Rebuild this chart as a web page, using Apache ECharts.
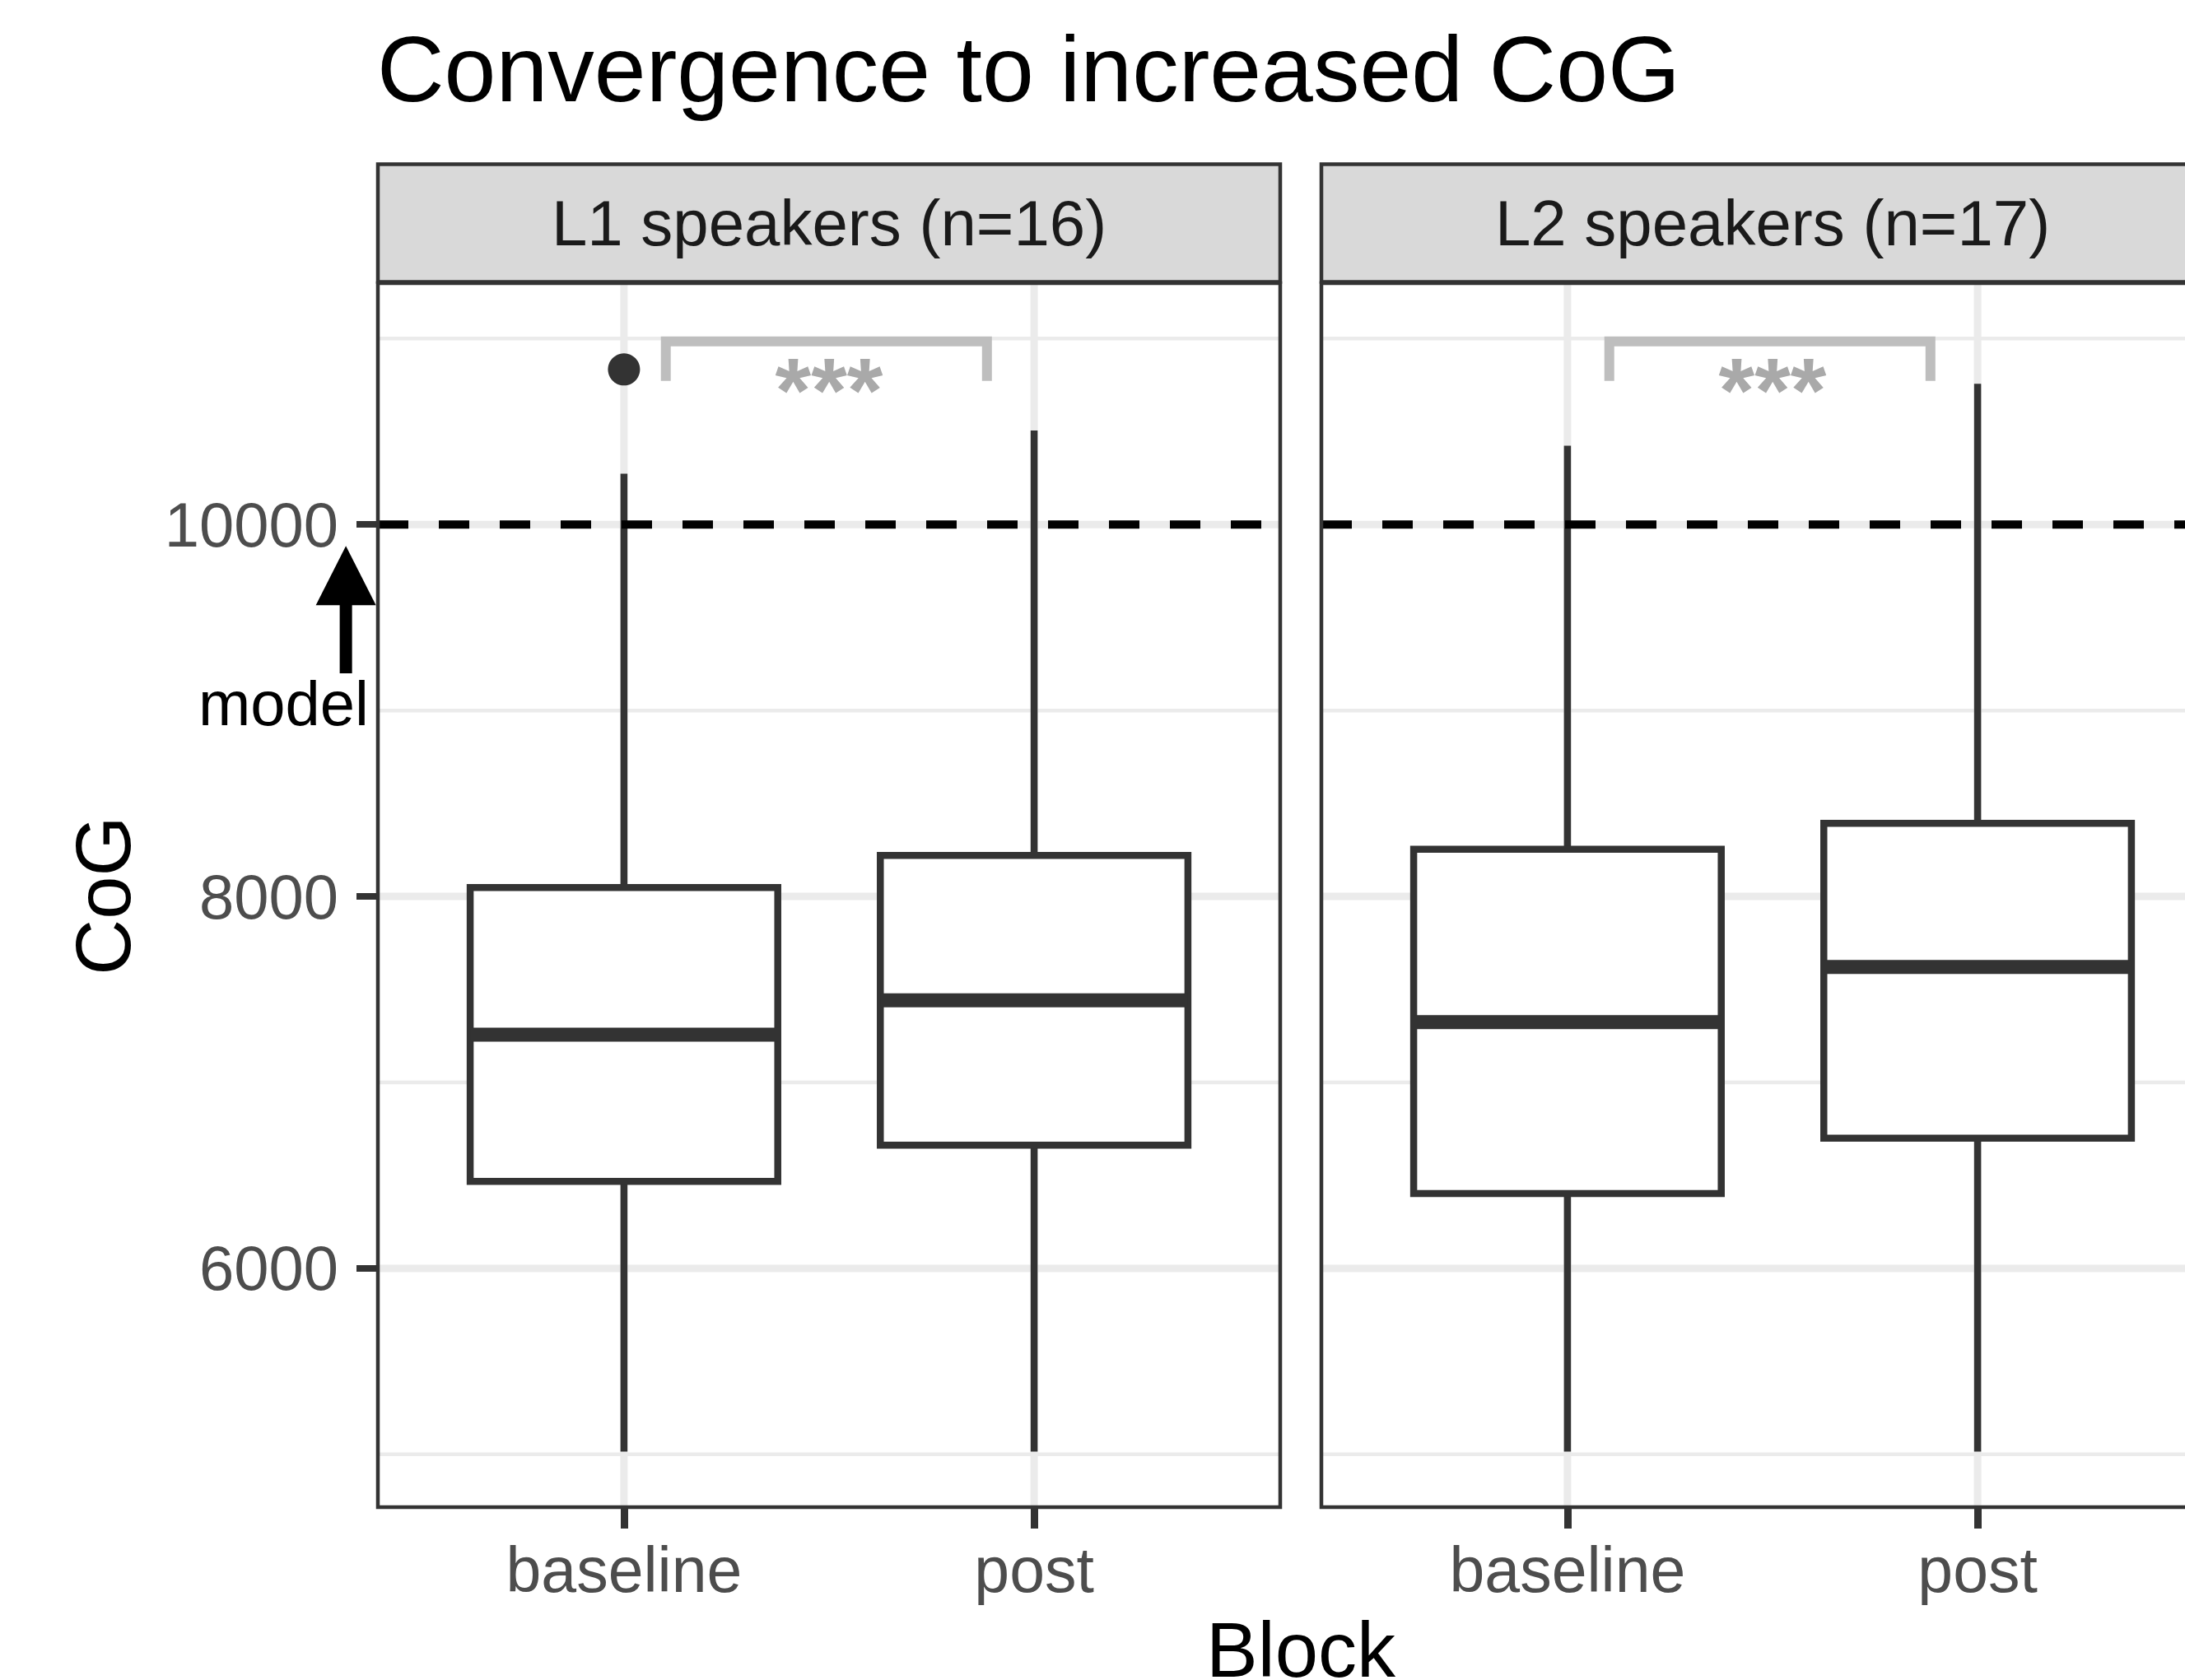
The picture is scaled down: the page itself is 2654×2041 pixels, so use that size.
<!DOCTYPE html>
<html>
<head>
<meta charset="utf-8">
<script src="https://cdn.jsdelivr.net/npm/echarts@6/dist/echarts.min.js"></script>
<style>
html,body{margin:0;padding:0;background:#ffffff;}
#c{width:2654px;height:2041px;}
</style>
</head>
<body>
<div id="c"></div>
<script>
// ---------------- data ----------------
const chartTitle = 'Convergence to increased CoG';
const panels = ['L1 speakers (n=16)', 'L2 speakers (n=17)'];
const blocks = ['baseline', 'post'];
const xTitle = 'Block';
const yTitle = 'CoG';
const yTicks = [6000, 8000, 10000];
const yMinorGrid = [5000, 7000, 9000, 11000];
const yRange = [4716, 11298];
const xRange = [0.4, 2.6];
const modelValue = 10000;
// per block: [lower whisker, Q1, median, Q3, upper whisker]
const l1Boxes = [[5015, 6468, 7257, 8048, 10273], [5015, 6662, 7442, 8221, 10506]];
const l2Boxes = [[5015, 6402, 7324, 8254, 10424], [5015, 6700, 7621, 8393, 10757]];
const l1Outliers = [[1, 10834]];
const l2Outliers = [];
const sigLabel = '***';
const sigBracketX = [1.102, 1.885];
const sigBracketY = [10772, 10985];
const sigLabelY = 10967;
const modelLabel = 'model';
const modelArrowX = 0.322;
const modelArrowY = [9200, 9885];
const modelLabelPos = [0.170, 9040];

// ---------------- chart ----------------
const FONT = '"Liberation Sans", Arial, Helvetica, sans-serif';
const GRIDS = [
  {left: 459, top: 344, width: 1096, height: 1487},
  {left: 1605, top: 344, width: 1096, height: 1487}
];
const boxData = [l1Boxes, l2Boxes];
const outlierData = [l1Outliers, l2Outliers];

const chart = echarts.init(document.getElementById('c'), null, {renderer: 'svg', width: 2654, height: 2041});

function gridLineSeries(gi) {
  const data = [];
  yMinorGrid.forEach(v => data.push([0, v, 0]));
  yTicks.forEach(v => data.push([0, v, 1]));
  blocks.forEach((b, i) => data.push([1, i + 1, 1]));
  return {
    type: 'custom', xAxisIndex: gi, yAxisIndex: gi, z: 1, silent: true, data: data,
    renderItem: function (params, api) {
      const cs = params.coordSys;
      const orient = api.value(0), v = api.value(1), major = api.value(2);
      let shape;
      if (orient === 0) {
        const y = api.coord([xRange[0], v])[1];
        shape = {x1: cs.x, y1: y, x2: cs.x + cs.width, y2: y};
      } else {
        const x = api.coord([v, yRange[0]])[0];
        shape = {x1: x, y1: cs.y, x2: x, y2: cs.y + cs.height};
      }
      return {type: 'line', shape: shape, style: {stroke: '#EBEBEB', lineWidth: major ? 9 : 4.5}};
    }
  };
}

function boxSeries(gi) {
  return {
    type: 'custom', xAxisIndex: gi, yAxisIndex: gi, z: 3, silent: true,
    data: boxData[gi].map((b, i) => [i + 1].concat(b)),
    renderItem: function (params, api) {
      const x = api.value(0);
      const lo = api.coord([x, api.value(1)]);
      const q1 = api.coord([x, api.value(2)]);
      const md = api.coord([x, api.value(3)]);
      const q3 = api.coord([x, api.value(4)]);
      const hi = api.coord([x, api.value(5)]);
      const hw = api.size([0.75, 0])[0] / 2;
      const st = {stroke: '#333333', lineWidth: 8.5};
      return {type: 'group', children: [
        {type: 'line', shape: {x1: hi[0], y1: hi[1], x2: q3[0], y2: q3[1]}, style: st},
        {type: 'line', shape: {x1: q1[0], y1: q1[1], x2: lo[0], y2: lo[1]}, style: st},
        {type: 'rect', shape: {x: md[0] - hw, y: q3[1], width: 2 * hw, height: q1[1] - q3[1]},
          style: {fill: '#FFFFFF', stroke: '#333333', lineWidth: 8.5}},
        {type: 'line', shape: {x1: md[0] - hw, y1: md[1], x2: md[0] + hw, y2: md[1]},
          style: {stroke: '#333333', lineWidth: 17}}
      ]};
    }
  };
}

function modelLineSeries(gi) {
  return {
    type: 'custom', xAxisIndex: gi, yAxisIndex: gi, z: 4, silent: true,
    data: [[xRange[0], modelValue]],
    renderItem: function (params, api) {
      const cs = params.coordSys;
      const y = api.coord([xRange[0], api.value(1)])[1];
      return {type: 'line', shape: {x1: cs.x, y1: y, x2: cs.x + cs.width, y2: y},
        style: {stroke: '#000000', lineWidth: 10, lineDash: [37, 37]}};
    }
  };
}

function sigSeries(gi) {
  return {
    type: 'custom', xAxisIndex: gi, yAxisIndex: gi, z: 5, silent: true,
    data: [[sigBracketX[0], sigBracketX[1], sigBracketY[0], sigBracketY[1], sigLabelY]],
    renderItem: function (params, api) {
      const x1 = api.value(0), x2 = api.value(1);
      const a = api.coord([x1, api.value(2)]);
      const b = api.coord([x1, api.value(3)]);
      const c = api.coord([x2, api.value(3)]);
      const d = api.coord([x2, api.value(2)]);
      const t = api.coord([1.5, api.value(4)]);
      return {type: 'group', children: [
        {type: 'polyline', shape: {points: [a, b, c, d]},
          style: {stroke: '#BEBEBE', lineWidth: 12, lineJoin: 'miter', lineCap: 'butt', fill: null}},
        {type: 'text', style: {text: sigLabel, x: t[0], y: t[1], align: 'center', verticalAlign: 'top',
          fontFamily: FONT, fontSize: 112, fontWeight: 'bold', fill: '#A9A9A9'}}
      ]};
    }
  };
}

function modelAnnotationSeries() {
  return {
    type: 'custom', xAxisIndex: 0, yAxisIndex: 0, z: 6, silent: true, clip: false,
    data: [[modelArrowX, modelArrowY[0], modelArrowY[1], modelLabelPos[0], modelLabelPos[1]]],
    renderItem: function (params, api) {
      const tail = api.coord([api.value(0), api.value(1)]);
      const tip = api.coord([api.value(0), api.value(2)]);
      const lab = api.coord([api.value(3), api.value(4)]);
      const hl = 72, hw = 36.5;
      return {type: 'group', children: [
        {type: 'line', shape: {x1: tail[0], y1: tail[1], x2: tip[0], y2: tip[1] + hl - 2},
          style: {stroke: '#000000', lineWidth: 15}},
        {type: 'polygon', shape: {points: [[tip[0], tip[1]], [tip[0] - hw, tip[1] + hl], [tip[0] + hw, tip[1] + hl]]},
          style: {fill: '#000000'}},
        {type: 'text', style: {text: modelLabel, x: lab[0], y: lab[1], align: 'center', verticalAlign: 'middle',
          fontFamily: FONT, fontSize: 76, fill: '#000000'}}
      ]};
    }
  };
}

const xAxes = GRIDS.map((g, gi) => ({
  type: 'value', gridIndex: gi, min: xRange[0], max: xRange[1],
  axisLine: {show: false},
  splitLine: {show: false},
  axisTick: {show: true, customValues: [1, 2], length: 26, lineStyle: {color: '#333333', width: 9}},
  axisLabel: {show: true, customValues: [1, 2], margin: 37,
    formatter: v => blocks[Math.round(v) - 1],
    fontFamily: FONT, fontSize: 77, color: '#4D4D4D'}
}));

const yAxes = GRIDS.map((g, gi) => ({
  type: 'value', gridIndex: gi, min: yRange[0], max: yRange[1],
  axisLine: {show: false},
  splitLine: {show: false},
  axisTick: {show: gi === 0, customValues: yTicks, length: 26, lineStyle: {color: '#333333', width: 8}},
  axisLabel: {show: gi === 0, customValues: yTicks, margin: 48,
    formatter: v => String(v),
    fontFamily: FONT, fontSize: 76, color: '#4D4D4D'}
}));

const series = [];
GRIDS.forEach((g, gi) => {
  series.push(gridLineSeries(gi));
  series.push(boxSeries(gi));
  series.push({
    type: 'scatter', xAxisIndex: gi, yAxisIndex: gi, z: 3, silent: true,
    data: outlierData[gi], symbol: 'circle', symbolSize: 39,
    itemStyle: {color: '#333333', opacity: 1}
  });
  series.push(modelLineSeries(gi));
  series.push(sigSeries(gi));
});
series.push(modelAnnotationSeries());

const graphics = [];
GRIDS.forEach((g, gi) => {
  graphics.push({type: 'rect', z: 50, silent: true,
    shape: {x: g.left, y: 199.5, width: g.width, height: 143},
    style: {fill: '#D9D9D9', stroke: '#333333', lineWidth: 4.5}});
  graphics.push({type: 'text', z: 51, silent: true, x: g.left + g.width / 2, y: 271,
    style: {text: panels[gi], align: 'center', verticalAlign: 'middle',
      fontFamily: FONT, fontSize: 78, fill: '#1A1A1A'}});
  graphics.push({type: 'rect', z: 100, silent: true,
    shape: {x: g.left, y: g.top, width: g.width, height: g.height},
    style: {fill: 'none', stroke: '#333333', lineWidth: 4.5}});
});
graphics.push({type: 'text', silent: true, x: 458, y: 84,
  style: {text: chartTitle, align: 'left', verticalAlign: 'middle', fontFamily: FONT, fontSize: 113, fill: '#000000'}});
graphics.push({type: 'text', silent: true, x: 1580, y: 2004,
  style: {text: xTitle, align: 'center', verticalAlign: 'middle', fontFamily: FONT, fontSize: 94, fill: '#000000'}});
graphics.push({type: 'text', silent: true, x: 125, y: 1088, rotation: Math.PI / 2,
  style: {text: yTitle, align: 'center', verticalAlign: 'middle', fontFamily: FONT, fontSize: 94, fill: '#000000'}});

chart.setOption({
  animation: false,
  backgroundColor: '#FFFFFF',
  grid: GRIDS.map(g => Object.assign({show: false, containLabel: false, outerBoundsMode: 'none'}, g)),
  xAxis: xAxes,
  yAxis: yAxes,
  series: series,
  graphic: graphics
});
</script>
</body>
</html>
